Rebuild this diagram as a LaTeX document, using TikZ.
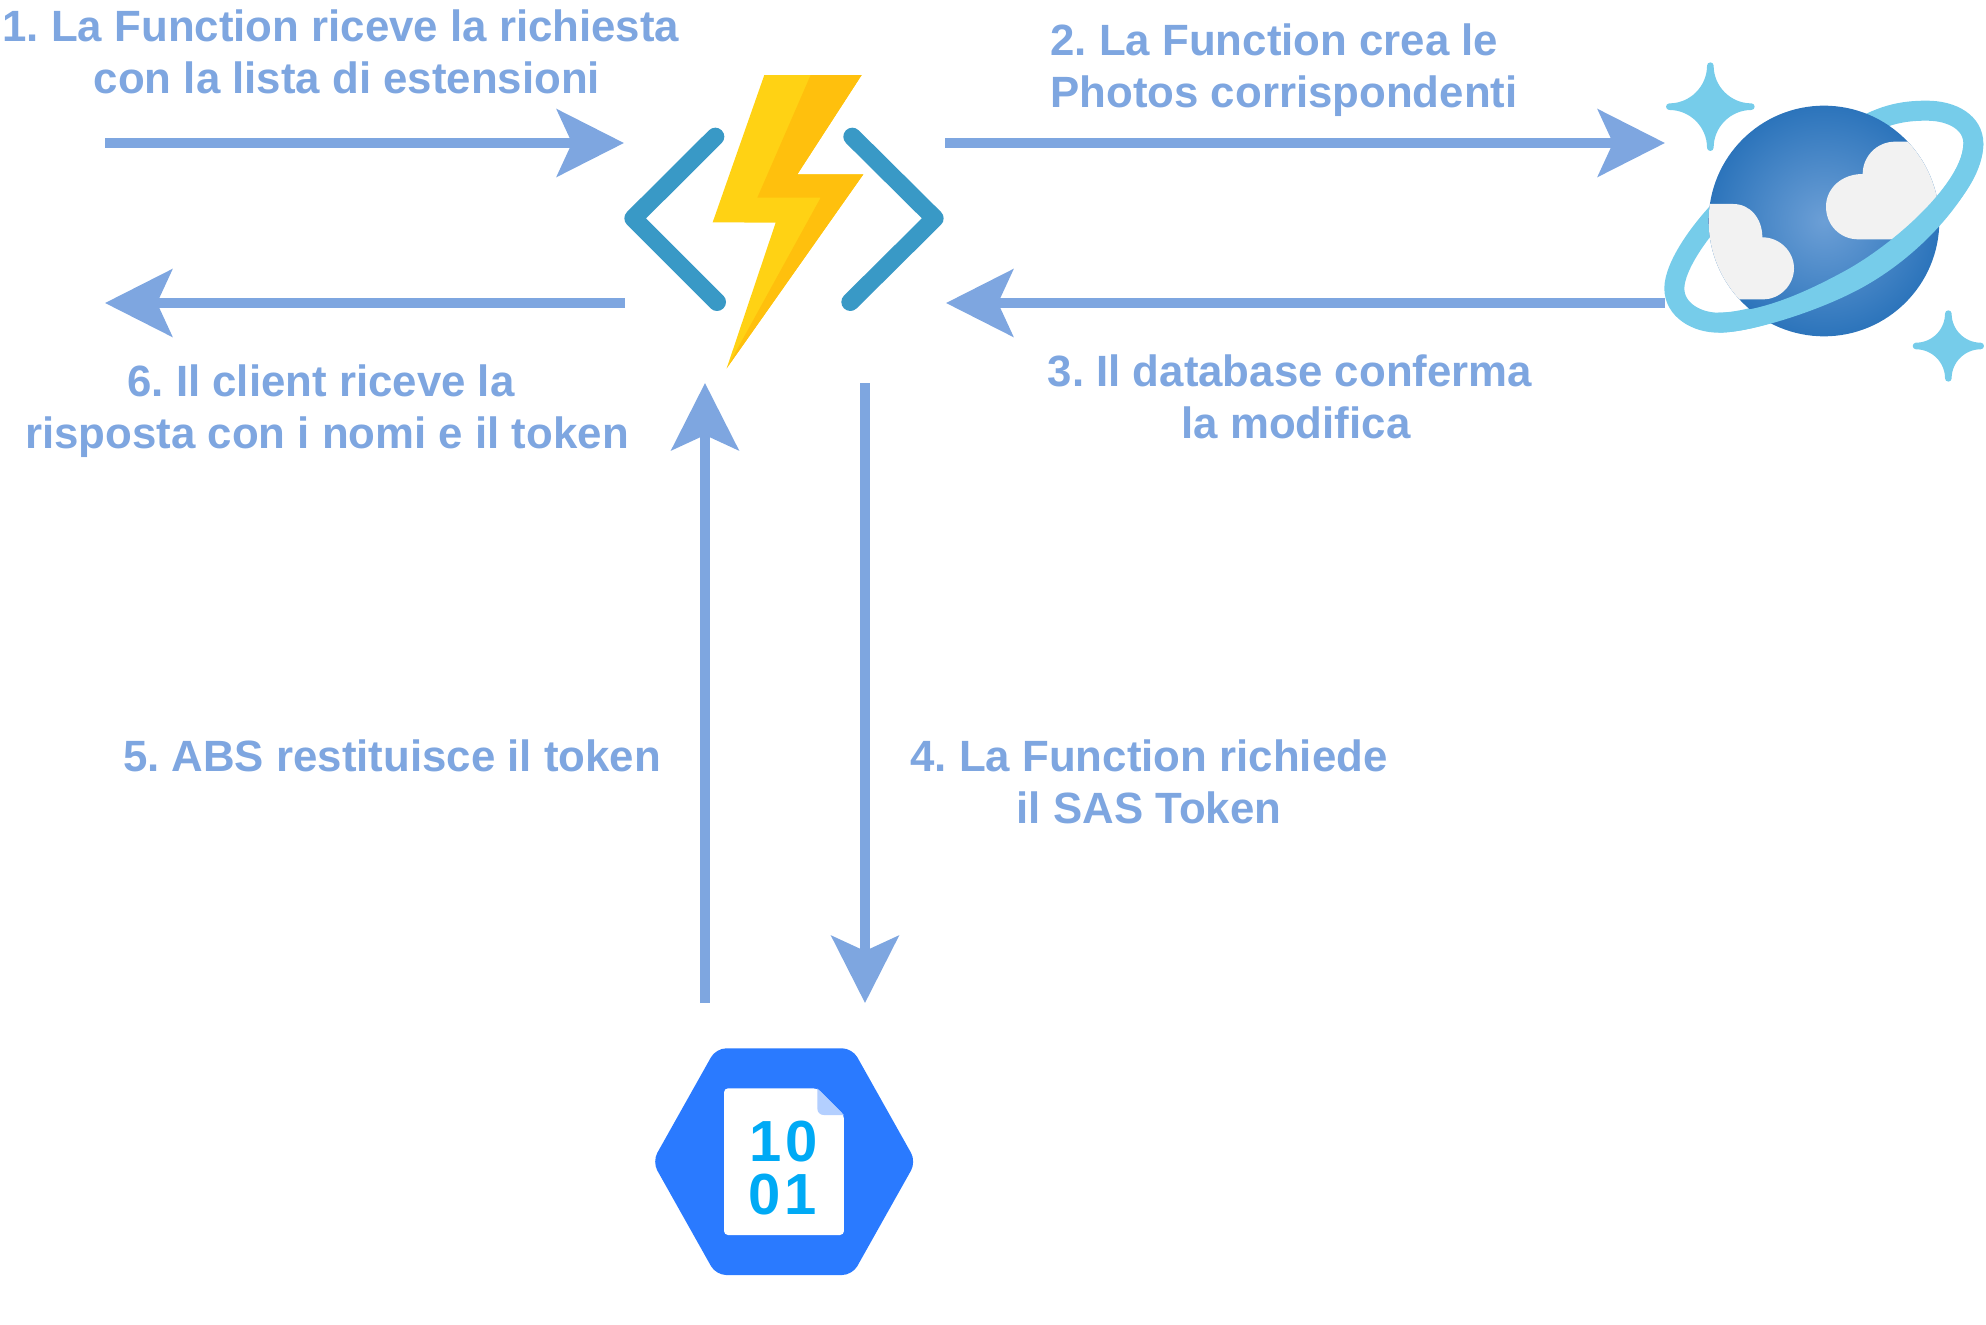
\documentclass[tikz,border=0pt]{standalone}
\usepackage{fontspec}
\setmainfont{Liberation Sans}
\frenchspacing
\usetikzlibrary{arrows.meta}
\definecolor{flowblue}{HTML}{7EA6E0}
\definecolor{boltlight}{HTML}{FFD214}
\definecolor{boltdark}{HTML}{FFC00D}
\definecolor{bracketblue}{HTML}{3999C6}
\definecolor{ringblue}{HTML}{76CCEA}
\definecolor{cosmosin}{HTML}{6C9FD6}
\definecolor{cosmosout}{HTML}{2C74BB}
\definecolor{cloudgray}{HTML}{F2F2F2}
\definecolor{storeblue}{HTML}{2A7AFF}
\definecolor{foldblue}{HTML}{B3CFFF}
\definecolor{bitblue}{HTML}{00AAF5}
\tikzset{
  flow/.style={draw=flowblue, line width=5pt, -{Stealth[length=33.5pt, width=33.5pt, inset=7.5pt]}},
  caption/.style={text=flowblue, font=\fontsize{21.9pt}{26pt}\selectfont\bfseries, inner sep=0pt, align=center},
  bit/.style={text=bitblue, font=\fontsize{29pt}{29pt}\selectfont\bfseries, inner sep=0pt},
  bracket/.style={bracketblue, line width=9pt, line cap=round, line join=round}
}
\newcommand{\capspace}{\ \mbox{}}
\begin{document}
\begin{tikzpicture}[x=0.5pt, y=-0.5pt]
  \useasboundingbox (0,0) rectangle (1986,1324);
  \coordinate (c1a) at (105,143);
  \coordinate (c1b) at (624,143);
  \coordinate (c2a) at (945,143);
  \coordinate (c2b) at (1665,143);
  \coordinate (c3a) at (1665,303);
  \coordinate (c3b) at (946,303);
  \coordinate (c4a) at (865,383);
  \coordinate (c4b) at (865,1003);
  \coordinate (c5a) at (705,1003);
  \coordinate (c5b) at (705,383);
  \coordinate (c6a) at (625,303);
  \coordinate (c6b) at (105,303);
  \draw[flow] (c1a) -- (c1b);
  \draw[flow] (c2a) -- (c2b);
  \draw[flow] (c3a) -- (c3b);
  \draw[flow] (c4a) -- (c4b);
  \draw[flow] (c5a) -- (c5b);
  \draw[flow] (c6a) -- (c6b);
  \node (t1) [caption] at (347,52) {1. La Function riceve la richiesta\capspace\\con la lista di estensioni};
  \node (t2) [caption, align=left, anchor=west] at (1050,70) {2. La Function crea le\\Photos corrispondenti};
  \node (t3) [caption] at (1296,397) {3. Il database conferma\capspace\\la modifica};
  \node (t4) [caption] at (1149,782) {4. La Function richiede\\il SAS Token};
  \node (t5) [caption] at (392,756) {5. ABS restituisce il token};
  \node (t6) [caption] at (327,411) {6. Il client riceve la\capspace\\risposta con i nomi e il token};
  % function
  \begin{scope}[shift={(600,50)}, x=0.5pt/3, y=-0.5pt/3]
    \fill[boltlight] (493,75) -- (785,75) -- (592,373) -- (790,373) -- (380,955) -- (527,518) -- (338,517) -- cycle;
    \fill[boltdark] (632,75) -- (785,75) -- (592,373) -- (790,373) -- (380,955) -- (662,443) -- (472,443) -- cycle;
    \draw[bracket] (346,260) -- (100,505) -- (351,756);
    \draw[bracket] (757,260) -- (1004,505) -- (751,756);
  \end{scope}
  % cosmos
  \begin{scope}[shift={(1640,40)}, x=0.5pt/3, y=-0.5pt/3]
    \draw[ringblue, line width=10pt] (300,450) .. controls (180,560) and (103,680) .. (103,745)
      .. controls (103,810) and (170,848) .. (235,848)
      .. controls (330,848) and (500,790) .. (640,705)
      .. controls (820,600) and (1000,440) .. (1000,310)
      .. controls (1000,250) and (940,212) .. (860,212)
      .. controls (790,212) and (720,222) .. (620,290);
    \shade[inner color=cosmosin, outer color=cosmosout] (552,543) circle [radius=346];
    \begin{scope}
      \clip (552,543) circle [radius=346];
      \fill[cloudgray] (770,598) -- (655,598) .. controls (600,598) and (558,555) .. (558,500)
        .. controls (558,445) and (605,402) .. (668,402) .. controls (668,350) and (710,305) .. (765,305)
        -- (950,305) -- (950,450) -- cycle;
      \fill[cloudgray] (150,492) -- (280,492) .. controls (330,492) and (367,535) .. (367,592)
        .. controls (420,592) and (462,635) .. (462,685) .. controls (462,735) and (420,778) .. (370,778)
        -- (150,778) -- cycle;
    \end{scope}
    \fill[ringblue] (1030,310) .. controls (1030,420) and (880,620) .. (680,735)
      .. controls (560,805) and (340,878) .. (235,878) -- (235,818)
      .. controls (370,818) and (510,750) .. (620,690)
      .. controls (780,600) and (970,420) .. (970,310) -- cycle;
    \foreach \cx/\cy/\rr in {211/200/123, 925/918/97}
      \filldraw[ringblue, line width=3.3pt, line join=round]
        (\cx,\cy-\rr) .. controls (\cx,\cy-0.45*\rr) and (\cx+0.45*\rr,\cy) .. (\cx+\rr,\cy)
        .. controls (\cx+0.45*\rr,\cy) and (\cx,\cy+0.45*\rr) .. (\cx,\cy+\rr)
        .. controls (\cx,\cy+0.45*\rr) and (\cx-0.45*\rr,\cy) .. (\cx-\rr,\cy)
        .. controls (\cx-0.45*\rr,\cy) and (\cx,\cy-0.45*\rr) .. (\cx,\cy-\rr) -- cycle;
  \end{scope}
  % storage
  \begin{scope}[shift={(640,1030)}, x=0.5pt/3, y=-0.5pt/3]
    \fill[storeblue, rounded corners=5pt] (37,395) -- (228,55) -- (637,55) -- (828,395) -- (637,735) -- (228,735) -- cycle;
    \fill[white, rounded corners=2pt] (252,175) -- (532,175) -- (612,255) -- (612,615) -- (252,615) -- cycle;
    \fill[foldblue] (532,175) -- (612,255) -- (552,255) .. controls (540,255) and (532,247) .. (532,235) -- cycle;
    \node (b1) [bit] at (378,335) {1};
    \node (b2) [bit] at (485,335) {0};
    \node (b3) [bit] at (375,495) {0};
    \node (b4) [bit] at (482,495) {1};
  \end{scope}
\end{tikzpicture}
\end{document}
